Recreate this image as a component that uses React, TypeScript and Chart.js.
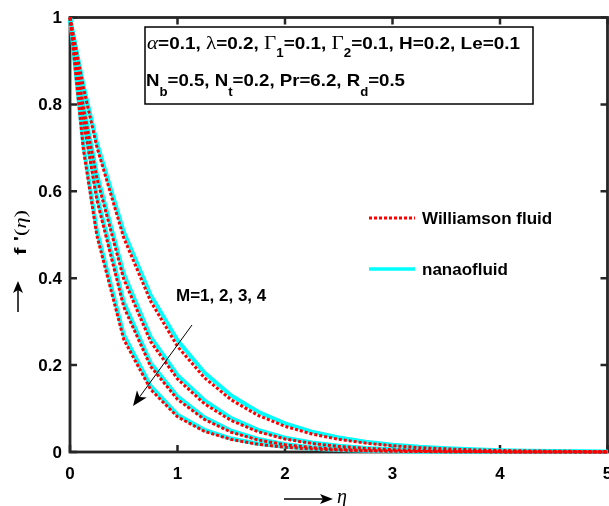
import React, { useEffect, useRef } from "react";
import { Chart, registerables } from "chart.js";

Chart.register(...registerables);

// ---------- data ----------
const etaValues = [0, 0.125, 0.25, 0.5, 0.75, 1, 1.25, 1.5, 1.75, 2, 2.25, 2.5, 2.75, 3, 3.25, 3.5, 3.75, 4, 4.25, 4.5, 4.75, 5];

const mValues = [1, 2, 3, 4];

const nanofluidM1 = [1, 0.844, 0.712, 0.507, 0.361, 0.257, 0.183, 0.13, 0.0926, 0.0659, 0.0469, 0.0334, 0.0238, 0.0169, 0.012, 0.0086, 0.0061, 0.0043, 0.0031, 0.0022, 0.0016, 0.0011];
const nanofluidM2 = [1, 0.8, 0.64, 0.41, 0.265, 0.177, 0.119, 0.078, 0.051, 0.033, 0.0218, 0.0143, 0.0093, 0.0061, 0.004, 0.0026, 0.0017, 0.0011, 0.0007, 0.0005, 0.0003, 0.0002];
const nanofluidM3 = [1, 0.77, 0.59, 0.345, 0.205, 0.128, 0.08, 0.049, 0.03, 0.018, 0.011, 0.0067, 0.0041, 0.0025, 0.0015, 0.0009, 0.0006, 0.0003, 0.0002, 0.0001, 0.0001, 0];
const nanofluidM4 = [1, 0.705, 0.51, 0.27, 0.152, 0.086, 0.051, 0.031, 0.019, 0.012, 0.0075, 0.0047, 0.0029, 0.0018, 0.0011, 0.0007, 0.0004, 0.0003, 0.0002, 0.0001, 0.0001, 0];

const williamsonM1 = [1, 0.838, 0.702, 0.493, 0.347, 0.243, 0.171, 0.12, 0.0842, 0.0591, 0.0415, 0.0292, 0.0205, 0.0144, 0.0101, 0.0072, 0.005, 0.0035, 0.0025, 0.0018, 0.0013, 0.0009];
const williamsonM2 = [1, 0.792, 0.63, 0.398, 0.254, 0.168, 0.111, 0.0724, 0.0466, 0.03, 0.0197, 0.0128, 0.0083, 0.0054, 0.0035, 0.0023, 0.0015, 0.001, 0.0006, 0.0004, 0.0003, 0.0002];
const williamsonM3 = [1, 0.762, 0.58, 0.334, 0.197, 0.121, 0.075, 0.0455, 0.0278, 0.0166, 0.0101, 0.0061, 0.0037, 0.0023, 0.0014, 0.0008, 0.0005, 0.0003, 0.0002, 0.0001, 0.0001, 0];
const williamsonM4 = [1, 0.696, 0.498, 0.259, 0.144, 0.081, 0.0475, 0.0288, 0.0176, 0.011, 0.0069, 0.0043, 0.0026, 0.0016, 0.001, 0.0006, 0.0004, 0.0002, 0.0001, 0.0001, 0, 0];

const xTickValues = [0, 1, 2, 3, 4, 5];
const xTickLabels = ["0", "1", "2", "3", "4", "5"];
const yTickValues = [0, 0.2, 0.4, 0.6, 0.8, 1];
const yTickLabels = ["0", "0.2", "0.4", "0.6", "0.8", "1"];

const legendLabels = ["Williamson fluid", "nanaofluid"];
const mLabel = "M=1, 2, 3, 4";

// ---------- styling ----------
const SANS = '"Liberation Sans", Arial, Helvetica, sans-serif';
const SERIF = '"Liberation Serif", "Times New Roman", serif';
const AXIS_COLOR = "#262626";
const CYAN = "#00ffff";
const RED = "#ff0000";

type Seg = { t: string; f: string; dy?: number };

function drawRich(ctx: CanvasRenderingContext2D, segs: Seg[], x: number, y: number, targetWidth?: number) {
  let w = 0;
  for (const s of segs) {
    ctx.font = s.f;
    w += ctx.measureText(s.t).width;
  }
  const sx = targetWidth ? targetWidth / w : 1;
  ctx.save();
  ctx.translate(x, y);
  ctx.scale(sx, 1);
  ctx.textAlign = "left";
  ctx.textBaseline = "alphabetic";
  let cx = 0;
  for (const s of segs) {
    ctx.font = s.f;
    ctx.fillText(s.t, cx, s.dy || 0);
    cx += ctx.measureText(s.t).width;
  }
  ctx.restore();
}

function arrowHead(ctx: CanvasRenderingContext2D, tipX: number, tipY: number, angle: number, len: number, half: number, notch: number) {
  ctx.save();
  ctx.translate(tipX, tipY);
  ctx.rotate(angle);
  ctx.beginPath();
  ctx.moveTo(0, 0);
  ctx.lineTo(-len, -half);
  ctx.lineTo(-len + notch, 0);
  ctx.lineTo(-len, half);
  ctx.closePath();
  ctx.fill();
  ctx.restore();
}

const matlabPlugin = {
  id: "matlabDecor",
  beforeDatasetsDraw(chart: any) {
    const { ctx, chartArea: a, scales } = chart;
    const xs = scales.x;
    const ys = scales.y;
    ctx.save();
    ctx.strokeStyle = AXIS_COLOR;
    ctx.lineWidth = 2.5;
    ctx.lineCap = "butt";
    ctx.beginPath();
    for (const v of xTickValues) {
      const px = xs.getPixelForValue(v);
      ctx.moveTo(px, a.bottom);
      ctx.lineTo(px, a.bottom - 7);
      ctx.moveTo(px, a.top);
      ctx.lineTo(px, a.top + 7);
    }
    for (const v of yTickValues) {
      const py = ys.getPixelForValue(v);
      ctx.moveTo(a.left, py);
      ctx.lineTo(a.left + 7, py);
      ctx.moveTo(a.right, py);
      ctx.lineTo(a.right - 7, py);
    }
    ctx.stroke();
    ctx.lineWidth = 2.8;
    ctx.strokeRect(a.left, a.top, a.right - a.left, a.bottom - a.top);

    // tick labels
    ctx.fillStyle = "#000";
    ctx.font = `bold 17px ${SANS}`;
    ctx.textAlign = "right";
    ctx.textBaseline = "middle";
    yTickValues.forEach((v, i) => {
      ctx.fillText(yTickLabels[i], a.left - 8, ys.getPixelForValue(v) + 1);
    });
    ctx.textAlign = "center";
    xTickValues.forEach((v, i) => {
      ctx.fillText(xTickLabels[i], xs.getPixelForValue(v), a.bottom + 22);
    });
    ctx.restore();
  },
  afterDatasetsDraw(chart: any) {
    const { ctx } = chart;
    ctx.save();

    // parameter box
    ctx.fillStyle = "#fff";
    ctx.fillRect(145, 27, 388, 77);
    ctx.strokeStyle = "#000";
    ctx.lineWidth = 1.5;
    ctx.strokeRect(145, 27, 388, 77);

    ctx.fillStyle = "#000";
    const B = `bold 17px ${SANS}`;
    const SUB = `bold 12px ${SANS}`;
    const G = `19px ${SERIF}`;
    const GI = `italic 19px ${SERIF}`;
    drawRich(
      ctx,
      [
        { t: "\u03B1", f: GI },
        { t: "=0.1, ", f: B },
        { t: "\u03BB", f: G },
        { t: "=0.2, ", f: B },
        { t: "\u0393", f: G },
        { t: "1", f: SUB, dy: 8 },
        { t: "=0.1, ", f: B },
        { t: "\u0393", f: G },
        { t: "2", f: SUB, dy: 8 },
        { t: "=0.1, H=0.2, Le=0.1", f: B },
      ],
      147,
      48.5,
      373
    );
    drawRich(
      ctx,
      [
        { t: "N", f: B },
        { t: "b", f: SUB, dy: 10 },
        { t: "=0.5, N", f: B },
        { t: "t", f: SUB, dy: 10 },
        { t: "=0.2, Pr=6.2, R", f: B },
        { t: "d", f: SUB, dy: 10 },
        { t: "=0.5", f: B },
      ],
      146,
      85.5,
      259
    );

    // legend
    ctx.lineWidth = 3;
    ctx.strokeStyle = RED;
    ctx.setLineDash([3, 2]);
    ctx.beginPath();
    ctx.moveTo(369, 218);
    ctx.lineTo(415, 218);
    ctx.stroke();
    ctx.setLineDash([]);
    ctx.strokeStyle = CYAN;
    ctx.lineWidth = 3.5;
    ctx.beginPath();
    ctx.moveTo(369, 269);
    ctx.lineTo(415, 269);
    ctx.stroke();
    ctx.fillStyle = "#000";
    ctx.font = `bold 17px ${SANS}`;
    ctx.textAlign = "left";
    ctx.textBaseline = "middle";
    ctx.fillText(legendLabels[0], 422, 219);
    ctx.fillText(legendLabels[1], 422, 270);

    // M label and arrow
    ctx.fillText(mLabel, 176, 296);
    ctx.strokeStyle = "#000";
    ctx.lineWidth = 1;
    const x0 = 192, y0 = 325, x1 = 133, y1 = 406;
    const ang = Math.atan2(y1 - y0, x1 - x0);
    ctx.beginPath();
    ctx.moveTo(x0, y0);
    ctx.lineTo(x1 - Math.cos(ang) * 8, y1 - Math.sin(ang) * 8);
    ctx.stroke();
    arrowHead(ctx, x1, y1, ang, 15, 6, 4);

    // x-axis title: arrow + eta
    ctx.lineWidth = 1.5;
    ctx.beginPath();
    ctx.moveTo(284, 499);
    ctx.lineTo(324, 499);
    ctx.stroke();
    arrowHead(ctx, 333, 499, 0, 13, 5, 3);
    ctx.font = `italic 20px ${SERIF}`;
    ctx.textBaseline = "alphabetic";
    ctx.fillText("\u03B7", 337, 503);

    // y-axis title (rotated)
    ctx.save();
    ctx.translate(26, 312);
    ctx.rotate(-Math.PI / 2);
    ctx.lineWidth = 1.5;
    ctx.beginPath();
    ctx.moveTo(0, -8);
    ctx.lineTo(22, -8);
    ctx.stroke();
    arrowHead(ctx, 31, -8, 0, 12, 5, 3);
    drawRich(
      ctx,
      [
        { t: "f", f: `bold 16px ${SANS}` },
        { t: " '", f: `bold 16px ${SANS}` },
        { t: "(", f: `16px ${SERIF}` },
        { t: "\u03B7", f: `italic 16px ${SERIF}` },
        { t: ")", f: `16px ${SERIF}` },
      ],
      57,
      0,
      45
    );
    ctx.restore();

    ctx.restore();
  },
};

function series(values: number[]) {
  return etaValues.map((x, i) => ({ x, y: values[i] }));
}

const nanofluidSeries = [nanofluidM1, nanofluidM2, nanofluidM3, nanofluidM4];
const williamsonSeries = [williamsonM1, williamsonM2, williamsonM3, williamsonM4];

export default function App() {
  const canvasRef = useRef<HTMLCanvasElement | null>(null);

  useEffect(() => {
    if (!canvasRef.current) return;
    const datasets: any[] = [];
    williamsonSeries.forEach((vals, i) => {
      datasets.push({
        label: `${legendLabels[0]} M=${mValues[i]}`,
        data: series(vals),
        borderColor: RED,
        borderWidth: 3,
        borderDash: [3, 2],
        borderCapStyle: "butt",
        pointRadius: 0,
        tension: 0,
        fill: false,
        order: 0,
        clip: 4,
      });
    });
    nanofluidSeries.forEach((vals, i) => {
      datasets.push({
        label: `${legendLabels[1]} M=${mValues[i]}`,
        data: series(vals),
        borderColor: CYAN,
        borderWidth: 4,
        pointRadius: 0,
        tension: 0,
        fill: false,
        order: 1,
        clip: 4,
      });
    });

    const chart = new Chart(canvasRef.current, {
      type: "line",
      data: { datasets },
      options: {
        animation: false,
        responsive: false,
        devicePixelRatio: 1,
        layout: { padding: { left: 70, right: 1.5, top: 17.5, bottom: 54 } },
        plugins: { legend: { display: false }, tooltip: { enabled: false } },
        scales: {
          x: { type: "linear", min: 0, max: 5, display: false },
          y: { type: "linear", min: 0, max: 1, display: false },
        },
      },
      plugins: [matlabPlugin],
    });
    return () => chart.destroy();
  }, []);

  return (
    <div style={{ position: "absolute", left: 0, top: 0, width: 609, height: 506, background: "#fff" }}>
      <canvas ref={canvasRef} width={609} height={506} />
    </div>
  );
}
